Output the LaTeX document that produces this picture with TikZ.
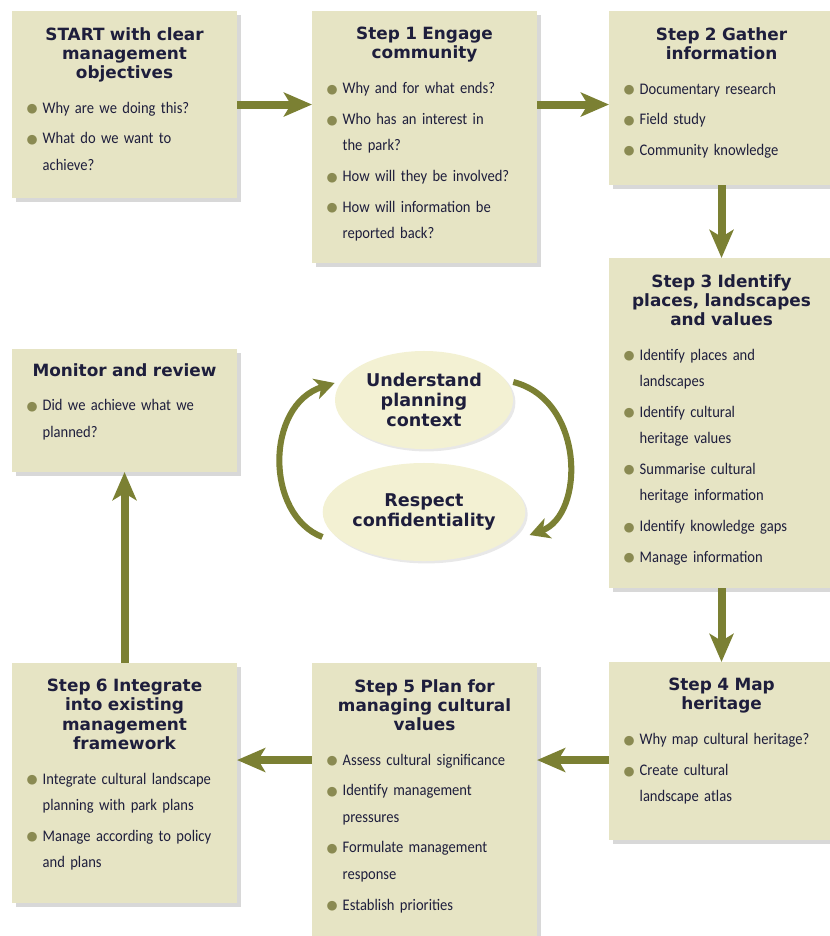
\documentclass[tikz,border=0pt]{standalone}
\usepackage{fontspec}
\setmainfont{Carlito}[FakeStretch=0.9]
\newfontfamily\hdfont{DejaVu Sans}
\usetikzlibrary{positioning,arrows.meta,shapes.geometric,shadows}
\usepackage{xcolor}

\definecolor{boxfill}{HTML}{E6E4C4}
\definecolor{ovalfill}{HTML}{F3F1D3}
\definecolor{arrowc}{HTML}{7B8033}
\definecolor{dotc}{HTML}{8A8A52}
\definecolor{inkc}{HTML}{1E1E3C}

% heading and bullet items inside the boxes
\newcommand\hd[1]{{\centering\hdfont\bfseries\fontsize{12}{13.6}\selectfont #1\par}\vspace{3pt}}
\newcommand\itm[1]{\par\vspace{3pt}\hangindent=11.5pt\hangafter=1\noindent\makebox[11.5pt][l]{\textcolor{dotc}{\raisebox{0.3pt}{\hdfont\fontsize{9}{0}\selectfont ●}}}#1\par}

\begin{document}
\begin{tikzpicture}[x=0.025cm, y=-0.025cm, node distance=0.4cm, every node/.style={text=inkc}]
\tikzstyle{stepbox}=[rectangle, fill=boxfill, anchor=north west, minimum width=5.625cm, inner sep=0pt, outer sep=0pt, drop shadow={shadow xshift=0.1cm, shadow yshift=-0.1cm, opacity=0.22, fill=black!70}]
\tikzstyle{boxtext}=[text width=4.9cm, inner sep=0pt, font=\fontsize{11.5}{18.8}\selectfont, execute at begin node={\raggedright\parindent=0pt}]
\tikzstyle{ovalnode}=[ellipse, fill=ovalfill, minimum width=4.45cm, minimum height=2.45cm, inner sep=0pt, align=center, font=\hdfont\bfseries\fontsize{12.5}{14.5}\selectfont, drop shadow={shadow xshift=0.06cm, shadow yshift=-0.06cm, opacity=0.15, fill=black!60}]
\tikzstyle{flowarrow}=[draw=arrowc, line width=5.7pt, -{Stealth[length=20pt, width=17pt, inset=5pt]}]
\tikzstyle{cyclearrow}=[draw=arrowc, line width=4.3pt, -{Stealth[length=14pt, width=15pt, inset=4pt]}]

\useasboundingbox (0,0) rectangle (830,936);

% Boxes
\node[stepbox, minimum height=4.675cm] (start) at (12,11) {};
\node[stepbox, minimum height=6.3cm] (s1) at (312,11) {};
\node[stepbox, minimum height=4.35cm] (s2) at (609,11) {};
\node[stepbox, minimum height=8.25cm] (s3) at (609,258) {};
\node[stepbox, minimum height=4.45cm] (s4) at (609,662) {};
\node[stepbox, minimum height=7.0cm] (s5) at (312,663) {};
\node[stepbox, minimum height=6.0cm] (s6) at (12,663) {};
\node[stepbox, minimum height=3.075cm] (mon) at (12,349) {};

% Box contents
\node[boxtext, below=of start.north] (startTxt) {\hd{START with clear\\management\\objectives}\itm{Why are we doing this?}\itm{What do we want to\newline achieve?}};
\node[boxtext, below=of s1.north] (s1Txt) {\hd{Step 1 Engage\\community}\itm{Why and for what ends?}\itm{Who has an interest in\newline the park?}\itm{How will they be involved?}\itm{How will information be\newline reported back?}};
\node[boxtext, below=of s2.north] (s2Txt) {\hd{Step 2 Gather\\information}\itm{Documentary research}\itm{Field study}\itm{Community knowledge}};
\node[boxtext, below=of s3.north] (s3Txt) {\hd{Step 3 Identify\\places, landscapes\\and values}\itm{Identify places and\newline landscapes}\itm{Identify cultural\newline heritage values}\itm{Summarise cultural\newline heritage information}\itm{Identify knowledge gaps}\itm{Manage information}};
\node[boxtext, below=of s4.north] (s4Txt) {\hd{Step 4 Map\\heritage}\itm{Why map cultural heritage?}\itm{Create cultural\newline landscape atlas}};
\node[boxtext, below=of s5.north] (s5Txt) {\hd{Step 5 Plan for\\managing cultural\\values}\itm{Assess cultural significance}\itm{Identify management\newline pressures}\itm{Formulate management\newline response}\itm{Establish priorities}};
\node[boxtext, below=of s6.north] (s6Txt) {\hd{Step 6 Integrate\\into existing\\management\\framework}\itm{Integrate cultural landscape\newline planning with park plans}\itm{Manage according to policy\newline and plans}};
\node[boxtext, below=0.35cm of mon.north] (monTxt) {\hd{Monitor and review}\itm{Did we achieve what we\newline planned?}};

% Centre ovals
\node[ovalnode] (und) at (424,400) {Understand\\planning\\context};
\node[ovalnode] (resp) at (424,512) {Respect\\confidentiality};

% Flow between steps
\draw[flowarrow] (start.east) -- (start.east -| s1.west);
\draw[flowarrow] (start.east -| s1.east) -- (start.east -| s2.west);
\draw[flowarrow] (s2.south) -- (s3.north);
\draw[flowarrow] (s3.south) -- (s4.north);
\draw[flowarrow] ([yshift=-0.225cm]s4.west) -- ([yshift=-0.225cm]s4.west -| s5.east);
\draw[flowarrow] ([yshift=-0.225cm]s4.west -| s5.west) -- ([yshift=-0.225cm]s4.west -| s6.east);
\draw[flowarrow] (s6.north) -- (mon.south);

% Cycle round the ovals
\coordinate (lowL) at ([yshift=-0.625cm]resp.west);
\coordinate (upL) at ([yshift=0.425cm]und.west);
\coordinate (upR) at ([yshift=0.45cm]und.east);
\coordinate (lowR) at ([xshift=0.1cm, yshift=-0.575cm]resp.east);
\draw[cyclearrow] (lowL) .. controls (265,515) and (265,405) .. (upL);
\draw[cyclearrow] (upR) .. controls (585,400) and (585,515) .. (lowR);
\end{tikzpicture}
\end{document}
